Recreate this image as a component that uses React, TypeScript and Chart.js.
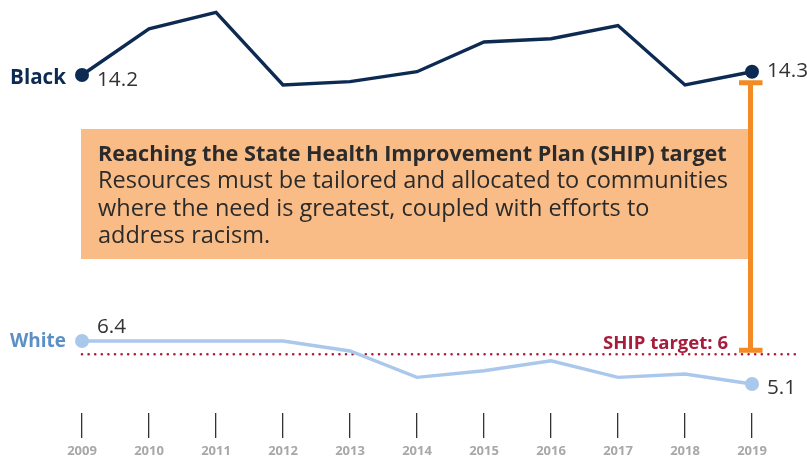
import React, { useEffect, useRef } from "react";
import { Chart, registerables } from "chart.js";

Chart.register(...registerables);

const years = ["2009", "2010", "2011", "2012", "2013", "2014", "2015", "2016", "2017", "2018", "2019"];
const blackValues = [14.2, 15.6, 16.1, 13.9, 14.0, 14.3, 15.2, 15.3, 15.7, 13.9, 14.3];
const whiteValues = [6.4, 6.4, 6.4, 6.4, 6.1, 5.3, 5.5, 5.8, 5.3, 5.4, 5.1];
const shipTarget = 6;
const boxTitle = "Reaching the State Health Improvement Plan (SHIP) target";
const boxLines = [
  "Resources must be tailored and allocated to communities",
  "where the need is greatest, coupled with efforts to",
  "address racism.",
];

const FAMILY = "'Open Sans', 'DejaVu Sans', sans-serif";
const NAVY = "#0d2b52";
const LIGHT = "#aac8ec";
const WHITE_LABEL = "#5b90c6";
const RED = "#a61c3c";
const ORANGE = "#f28b24";
const BOX = "#f9bc86";
const TEXT = "#2b2b2b";

function fitFont(ctx: CanvasRenderingContext2D, text: string, weight: string, width: number) {
  ctx.font = `${weight} 20px ${FAMILY}`;
  const w = ctx.measureText(text).width;
  const size = (20 * width) / w;
  return `${weight} ${size.toFixed(2)}px ${FAMILY}`;
}

const overlayPlugin = {
  id: "overlay",
  beforeDatasetsDraw(chart: any) {
    const ctx = chart.ctx as CanvasRenderingContext2D;
    const y2 = chart.scales.y2;
    const yT = y2.getPixelForValue(shipTarget);
    const x0 = chart.scales.x.getPixelForValue(0);
    ctx.save();
    ctx.strokeStyle = RED;
    ctx.lineWidth = 2.6;
    ctx.lineCap = "round";
    ctx.setLineDash([0, 6.6]);
    ctx.beginPath();
    ctx.moveTo(x0, yT);
    ctx.lineTo(799, yT);
    ctx.stroke();
    ctx.restore();
  },
  afterDatasetsDraw(chart: any) {
    const ctx = chart.ctx as CanvasRenderingContext2D;
    const xs = chart.scales.x;
    const y = chart.scales.y;
    const y2 = chart.scales.y2;
    const last = years.length - 1;
    const xFirst = xs.getPixelForValue(0);
    const xLast = xs.getPixelForValue(last);
    const yT = y2.getPixelForValue(shipTarget);
    ctx.save();

    // bracket
    const bx = xLast - 1.5;
    const topY = y.getPixelForValue(blackValues[last]) + 11;
    const botY = yT - 4;
    ctx.strokeStyle = ORANGE;
    ctx.lineWidth = 5;
    ctx.beginPath();
    ctx.moveTo(bx, topY);
    ctx.lineTo(bx, botY);
    ctx.moveTo(bx - 11.5, topY);
    ctx.lineTo(bx + 12, topY);
    ctx.moveTo(bx - 11.5, botY);
    ctx.lineTo(bx + 12, botY);
    ctx.stroke();

    // box
    ctx.fillStyle = BOX;
    ctx.fillRect(xFirst - 1, 129, bx - 2.5 - (xFirst - 1), 130);
    ctx.fillStyle = TEXT;
    ctx.textBaseline = "alphabetic";
    ctx.textAlign = "left";
    ctx.font = fitFont(ctx, boxTitle, "bold", 629);
    ctx.fillText(boxTitle, 98, 161);
    const bodyFont = fitFont(ctx, boxLines[0], "normal", 630);
    ctx.font = bodyFont;
    boxLines.forEach((t, i) => ctx.fillText(t, 98, 188 + i * 27.5));

    // series labels
    ctx.textBaseline = "middle";
    ctx.textAlign = "right";
    ctx.fillStyle = NAVY;
    ctx.font = fitFont(ctx, "Black", "bold", 56);
    ctx.fillText("Black", 66, y.getPixelForValue(blackValues[0]) + 3);
    ctx.fillStyle = WHITE_LABEL;
    ctx.font = fitFont(ctx, "White", "bold", 56);
    ctx.fillText("White", 66, y2.getPixelForValue(whiteValues[0]) + 1);

    // SHIP target label
    ctx.fillStyle = RED;
    const shipText = `SHIP target: ${shipTarget}`;
    ctx.font = fitFont(ctx, shipText, "bold", 125);
    ctx.fillText(shipText, 728, yT - 11);

    // value labels
    ctx.textAlign = "left";
    ctx.fillStyle = "#333333";
    const vf = fitFont(ctx, "14.2", "normal", 41);
    ctx.font = vf;
    ctx.fillText(blackValues[0].toFixed(1), xFirst + 15, y.getPixelForValue(blackValues[0]) + 5);
    ctx.fillText(blackValues[last].toFixed(1), xLast + 15, y.getPixelForValue(blackValues[last]) - 1);
    ctx.fillText(whiteValues[0].toFixed(1), xFirst + 15, y2.getPixelForValue(whiteValues[0]) - 14);
    ctx.fillText(whiteValues[last].toFixed(1), xLast + 15, y2.getPixelForValue(whiteValues[last]) + 4);
    ctx.restore();
  },
};

export default function App() {
  const ref = useRef<HTMLCanvasElement | null>(null);
  useEffect(() => {
    if (!ref.current) return;
    const endRadius = (c: any) => (c.dataIndex === 0 || c.dataIndex === years.length - 1 ? 7 : 0);
    const chart = new Chart(ref.current, {
      type: "line",
      data: {
        labels: years,
        datasets: [
          {
            label: "Black",
            data: blackValues,
            yAxisID: "y",
            borderColor: NAVY,
            backgroundColor: NAVY,
            pointBackgroundColor: NAVY,
            pointBorderWidth: 0,
            pointRadius: endRadius,
            borderWidth: 3.4,
            tension: 0,
            clip: false as any,
          },
          {
            label: "White",
            data: whiteValues,
            yAxisID: "y2",
            borderColor: LIGHT,
            backgroundColor: LIGHT,
            pointBackgroundColor: LIGHT,
            pointBorderWidth: 0,
            pointRadius: endRadius,
            borderWidth: 3.4,
            tension: 0,
            clip: false as any,
          },
        ],
      },
      options: {
        animation: false,
        responsive: true,
        maintainAspectRatio: false,
        layout: { padding: { left: 82, right: 55, top: 10, bottom: 0 } },
        plugins: { legend: { display: false }, tooltip: { enabled: false } },
        scales: {
          x: {
            type: "category",
            offset: false,
            border: { display: false },
            afterFit: (scale: any) => {
              scale.height = 45;
            },
            grid: {
              display: true,
              drawOnChartArea: false,
              drawTicks: true,
              tickLength: 25,
              color: "#333333",
              lineWidth: 1.3,
            },
            ticks: {
              color: "#a8a8a8",
              font: { family: FAMILY, size: 13, weight: "bold" },
              padding: 5,
              maxRotation: 0,
              autoSkip: false,
            },
          },
          y: { display: false, min: 3.96, max: 16.17 },
          y2: { display: false, min: 4.22, max: 16.43 },
        },
      },
      plugins: [overlayPlugin],
    });
    return () => chart.destroy();
  }, []);
  return (
    <div style={{ position: "fixed", left: 0, top: 0, width: 807, height: 458, background: "#fff" }}>
      <canvas ref={ref} />
    </div>
  );
}
